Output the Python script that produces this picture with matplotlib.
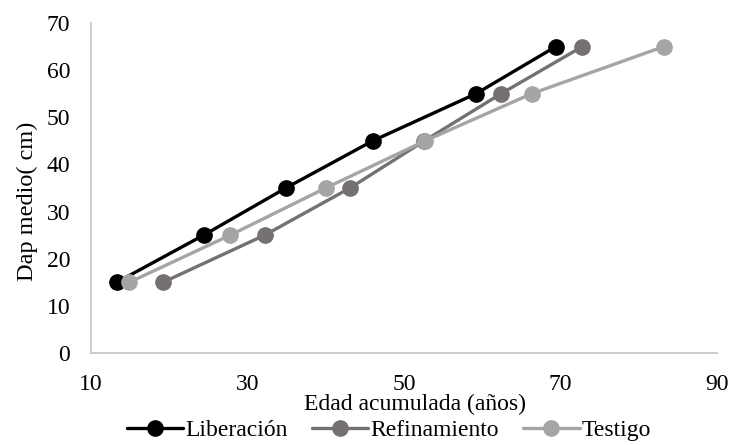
import matplotlib.pyplot as plt

plt.rcParams['font.family'] = ['Liberation Serif', 'DejaVu Serif']

# Dap medio classes (cm)
dap = [15, 25, 35, 45, 55, 65]

# edad acumulada (anos) per treatment
edad_liberacion = [13.3, 24.4, 34.9, 46.0, 59.2, 69.4]
edad_refinamiento = [19.2, 32.2, 43.1, 52.6, 62.4, 72.8]
edad_testigo = [14.9, 27.8, 40.0, 52.7, 66.3, 83.2]

series = [
    ("Liberación", edad_liberacion, "#000000"),
    ("Refinamiento", edad_refinamiento, "#767171"),
    ("Testigo", edad_testigo, "#A5A5A5"),
]

W, H = 730, 445
fig = plt.figure(figsize=(W / 100, H / 100), dpi=100)
ax = fig.add_axes([91 / W, 1 - 353 / H, (717 - 91) / W, (353 - 23) / H])

for name, xs, col in series:
    ax.plot(xs, dap, color=col, lw=2.4, marker='o', ms=11, label=name,
            solid_capstyle='round')

ax.set_xlim(10, 90)
ax.set_ylim(0, 70)
ax.set_xticks([10, 30, 50, 70, 90])
ax.set_yticks(range(0, 80, 10))
ax.tick_params(length=0, labelsize=17)
ax.tick_params(axis='x', pad=15)
ax.tick_params(axis='y', pad=15)

for s in ['top', 'right']:
    ax.spines[s].set_visible(False)
for s in ['left', 'bottom']:
    ax.spines[s].set_color('#C8C8C8')
    ax.spines[s].set_linewidth(1.3)

fig.text(415 / W, 1 - 410 / H, "Edad acumulada (años)", ha='center', va='baseline', fontsize=17)
fig.text(27 / W, 1 - 201 / H, "Dap medio( cm)", ha='center', va='center', rotation=90, fontsize=17.5)

fig.legend(loc='center', bbox_to_anchor=(389 / W, 1 - 430 / H), ncol=3, frameon=False,
           fontsize=17, handlelength=2.4, handletextpad=0.1, columnspacing=1.0,
           borderpad=0, borderaxespad=0)

fig.savefig('out.png', dpi=100)
